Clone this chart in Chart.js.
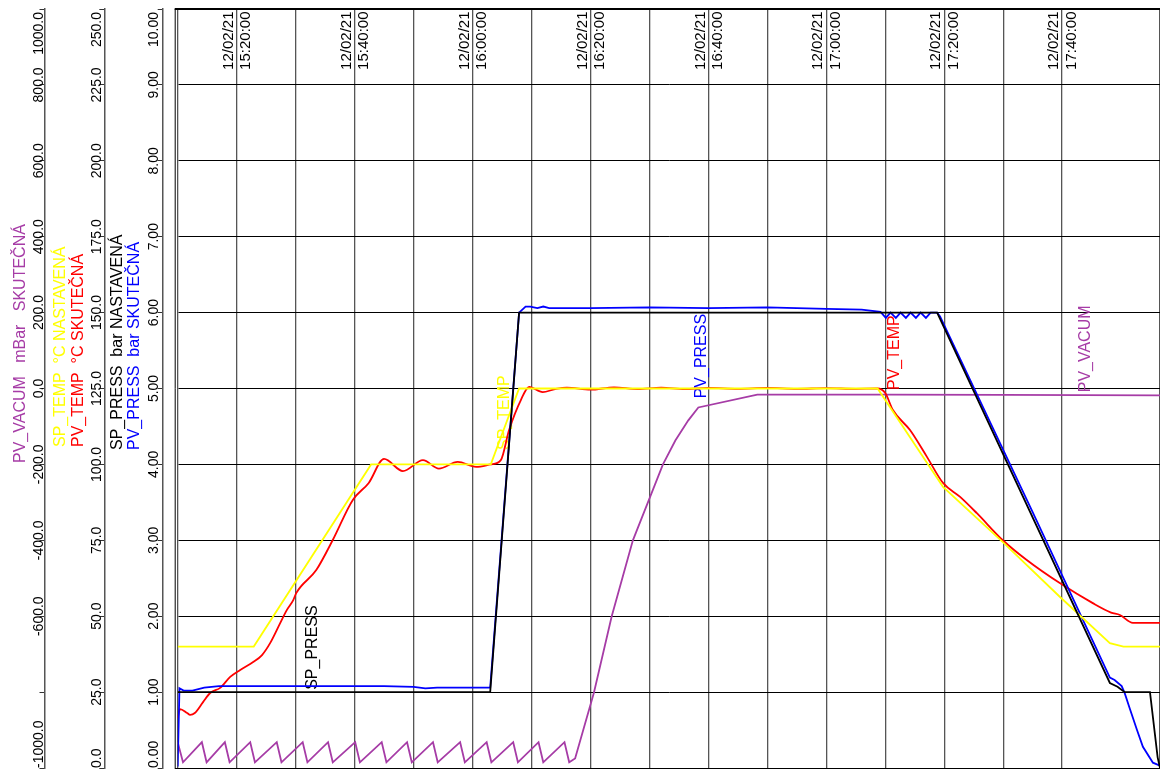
<!DOCTYPE html>
<html><head><meta charset="utf-8">
<script src="https://cdn.jsdelivr.net/npm/chart.js@4.4.1/dist/chart.umd.min.js"></script>
<style>html,body{margin:0;padding:0;background:#fff;overflow:hidden}#wrap{width:1160px;height:771px;position:relative}canvas{display:block}</style>
</head><body><div id="wrap"><canvas id="c" width="1160" height="771" style="width:1160px;height:771px"></canvas></div>
<script>
// ---- time axis (minutes after 12/02/21 15:10:00) ----
const timeTickMinutes = [10, 30, 50, 70, 90, 110, 130, 150];
const timeTickDates = ['12/02/21','12/02/21','12/02/21','12/02/21','12/02/21','12/02/21','12/02/21','12/02/21'];
const timeTickTimes = ['15:20:00','15:40:00','16:00:00','16:20:00','16:40:00','17:00:00','17:20:00','17:40:00'];

// ---- axis tick labels ----
const vacTickVals = [-1000,-600,-400,-200,0,200,400,600,800,1000];
const vacTickLabels = ['-1000.0','-600.0','-400.0','-200.0','0.0','200.0','400.0','600.0','800.0','1000.0'];
const tempTickVals = [0,25,50,75,100,125,150,175,200,225,250];
const tempTickLabels = ['0.0','25.0','50.0','75.0','100.0','125.0','150.0','175.0','200.0','225.0','250.0'];
const pressTickVals = [0,1,2,3,4,5,6,7,8,9,10];
const pressTickLabels = ['0.00','1.00','2.00','3.00','4.00','5.00','6.00','7.00','8.00','9.00','10.00'];

// ---- series: SP_PRESS (bar) ----
const spPressT = [0, 53.0, 57.9, 128.8, 158.1, 159.4, 160.6, 164.9, 166.2, 166.6];
const spPressV = [1.0, 1.0, 6.0, 6.0, 1.12, 1.07, 1.0, 1.0, 0.14, 0.0];

// ---- series: PV_PRESS (bar) ----
const pvPressT = [0, 0.3, 1.0, 2.5, 4.5, 7, 15, 25, 35, 40, 42, 44, 50, 53.0, 57.9, 59.0, 59.8, 61, 62, 63, 70, 80, 90, 100, 110, 116, 119.2, 120.1, 120.9, 121.8, 122.6, 123.5, 124.3, 125.2, 126.0, 126.9, 127.7, 128.8, 129.3, 145, 158.1, 158.9, 160.1, 160.6, 161.4, 162.7, 163.7, 165.4, 166.6];
const pvPressV = [0.02, 1.05, 1.02, 1.02, 1.06, 1.08, 1.08, 1.08, 1.08, 1.07, 1.05, 1.06, 1.06, 1.06, 6.0, 6.08, 6.08, 6.06, 6.08, 6.06, 6.06, 6.07, 6.06, 6.07, 6.05, 6.04, 6.01, 5.93, 6.0, 5.93, 6.0, 5.93, 6.0, 5.93, 6.0, 5.93, 6.0, 6.0, 5.95, 3.37, 1.19, 1.16, 1.08, 0.99, 0.80, 0.50, 0.28, 0.07, 0.03];

// ---- series: SP_TEMP (°C) ----
const spTempT = [0, 12.9, 32.8, 53.1, 57.9, 118.7, 127.1, 129.8, 139.9, 149.6, 158.1, 160.4, 166.6];
const spTempV = [40, 40, 100, 100, 125, 125, 100.5, 92.6, 74.5, 56.4, 41.1, 40, 40];

// ---- series: PV_TEMP (°C) ----
const pvTempT = [0,0.4,1.6,2.1,2.9,4.3,5.5,7.2,8.9,10.6,12.8,14.3,15.7,17.4,18.5,19.6,20.1,23.5,26.3,29.7,32.4,35.0,38.2,41.6,44.3,47.5,50.6,53.1,54.8,56.2,58.2,59.6,61.9,64,66,70,74,78,82,86,90,95,100,105,110,115,118.7,120.0,121.3,124.2,127.1,129.8,132.7,135.5,139.9,144.0,149.6,155.2,158.3,159.8,162.0,166.6];
const pvTempV = [16.5,19.4,18.1,17.5,18.1,21.7,24.7,26.4,30.0,32.3,34.9,37.2,41.2,47.8,52.0,55.3,57.6,65.2,75.1,88.3,93.9,101.8,97.8,101.4,98.6,100.8,99.2,100,101.4,111.3,121.2,125.5,123.8,124.8,125.3,124.6,125.4,124.8,125.3,124.8,125.2,124.9,125.2,124.9,125.1,124.9,125,123.5,117.9,111.3,102.4,93.9,89.3,84.0,75.1,68.5,60.9,54.3,51.2,50.4,47.8,47.8];

// ---- series: PV_VACUM (mBar) ----
const pvVacT = [0,0.9,4.1,4.9,8.0,8.8,12.3,13.1,16.8,17.6,21.2,22.0,25.5,26.3,30.1,30.9,34.6,35.4,38.9,39.7,43.3,44.1,47.9,48.7,52.4,53.2,56.9,57.7,61.2,62.0,65.6,66.4,67.4,70.6,73.6,77.2,82.3,84.4,86.6,88.3,98.3,120,140,166.6];
const pvVacV = [-932,-985,-932,-985,-932,-985,-932,-985,-932,-985,-932,-985,-932,-985,-932,-985,-932,-985,-932,-985,-932,-985,-932,-985,-932,-985,-932,-985,-932,-985,-932,-985,-975,-801,-601,-400,-200,-137,-84,-50,-16,-16,-17,-18];

// ---- in-plot series labels (anchored in time / bar units) ----
const seriesLabelText = ['SP_PRESS','SP_TEMP','PV_PRESS','PV_TEMP','PV_VACUM'];
const seriesLabelT = [22.7, 55.3, 88.6, 121.3, 153.7];
const seriesLabelP = [1.03, 4.19, 4.87, 4.98, 4.95];

const PURPLE = '#a63ca6', YELLOW = '#ffff00', RED = '#ff0000', BLUE = '#0000ff', BLACK = '#000000';
const seriesLabelColor = [BLACK, YELLOW, BLUE, RED, PURPLE];
const FONT = '"Liberation Sans", Arial, Helvetica, sans-serif';

function xy(ts, vs) { return ts.map((t, i) => ({x: t, y: vs[i]})); }

function rotText(ctx, text, x, y, align, color, size) {
  ctx.save();
  ctx.translate(x, y);
  ctx.rotate(-Math.PI / 2);
  ctx.font = size + 'px ' + FONT;
  ctx.fillStyle = color;
  ctx.textAlign = align;
  ctx.textBaseline = 'alphabetic';
  ctx.fillText(text, 0, 0);
  ctx.restore();
}

function drawTickLabels(ctx, scale, vals, labels, baseX, area) {
  ctx.font = '14px ' + FONT;
  vals.forEach((v, i) => {
    const w = ctx.measureText(labels[i]).width;
    let yc = scale.getPixelForValue(v);
    if (yc - w / 2 < area.top + 3) yc = area.top + 3 + w / 2;
    if (yc + w / 2 > area.bottom) yc = area.bottom - w / 2;
    rotText(ctx, labels[i], baseX, yc, 'center', '#000', 14);
  });
}

const overlay = {
  id: 'overlay',
  beforeDatasetsDraw(chart) {
    const ctx = chart.ctx, s = chart.scales;
    seriesLabelText.forEach((txt, i) => {
      const x = s.x.getPixelForValue(seriesLabelT[i]);
      const y = s.yP.getPixelForValue(seriesLabelP[i]);
      rotText(ctx, txt, x + 5.7, y, 'left', seriesLabelColor[i], 16);
    });
  },
  afterDraw(chart) {
    const ctx = chart.ctx, s = chart.scales, a = chart.chartArea;
    // frame
    ctx.save();
    ctx.strokeStyle = '#000';
    ctx.lineWidth = 2;
    ctx.beginPath(); ctx.moveTo(a.left - 3, a.top); ctx.lineTo(a.right, a.top); ctx.stroke();
    ctx.lineWidth = 1;
    ctx.beginPath(); ctx.moveTo(a.left - 2.5, a.top); ctx.lineTo(a.left - 2.5, a.bottom); ctx.stroke();
    ctx.beginPath(); ctx.moveTo(a.left - 3, a.bottom + 0.5); ctx.lineTo(a.right, a.bottom + 0.5); ctx.stroke();
    ctx.restore();
    // time labels
    timeTickMinutes.forEach((m, i) => {
      const x = s.x.getPixelForValue(m);
      rotText(ctx, timeTickDates[i], x - 3.8, a.top + 2.5, 'right', '#000', 15);
      rotText(ctx, timeTickTimes[i], x + 13.7, a.top + 2.5, 'right', '#000', 15);
    });
    // axis tick labels
    drawTickLabels(ctx, s.yV, vacTickVals, vacTickLabels, s.yV.right - 2, a);
    drawTickLabels(ctx, s.yT, tempTickVals, tempTickLabels, s.yT.right - 3.8, a);
    drawTickLabels(ctx, s.yP, pressTickVals, pressTickLabels, s.yP.right - 4.7, a);
    // axis titles
    rotText(ctx, 'PV_VACUM   mBar   SKUTEČNÁ', s.yV.right - 20, 463, 'left', PURPLE, 16);
    rotText(ctx, 'SP_TEMP  °C NASTAVENÁ', s.yT.right - 39.6, 447, 'left', YELLOW, 16);
    rotText(ctx, 'PV_TEMP  °C SKUTEČNÁ', s.yT.right - 21.6, 447, 'left', RED, 16);
    rotText(ctx, 'SP_PRESS  bar NASTAVENÁ', s.yP.right - 41.2, 450, 'left', BLACK, 16);
    rotText(ctx, 'PV_PRESS  bar SKUTEČNÁ', s.yP.right - 23.7, 450, 'left', BLUE, 16);
  }
};

const axisBase = (min, max, step, width, weight, onArea, gridColor) => ({
  type: 'linear', position: 'left', weight: weight, min: min, max: max,
  ticks: {display: false, stepSize: step},
  grid: {drawOnChartArea: onArea, drawTicks: true, tickLength: 5, color: gridColor, tickColor: '#333', lineWidth: 1},
  border: {display: true, color: '#555', width: 1.5},
  afterFit(sc) { sc.width = width; }
});

new Chart(document.getElementById('c'), {
  type: 'line',
  data: {
    datasets: [
      {label: 'SP_PRESS', data: xy(spPressT, spPressV), yAxisID: 'yP', borderColor: BLACK, borderWidth: 1.8},
      {label: 'SP_TEMP', data: xy(spTempT, spTempV), yAxisID: 'yT', borderColor: YELLOW, borderWidth: 1.8},
      {label: 'PV_PRESS', data: xy(pvPressT, pvPressV), yAxisID: 'yP', borderColor: BLUE, borderWidth: 1.8},
      {label: 'PV_TEMP', data: xy(pvTempT, pvTempV), yAxisID: 'yT', borderColor: RED, borderWidth: 1.8, cubicInterpolationMode: 'monotone'},
      {label: 'PV_VACUM', data: xy(pvVacT, pvVacV), yAxisID: 'yV', borderColor: PURPLE, borderWidth: 1.8}
    ]
  },
  options: {
    responsive: false,
    animation: false,
    events: [],
    elements: {point: {radius: 0}, line: {tension: 0, fill: false}},
    layout: {padding: {top: 9, bottom: 3, left: 0, right: 0}},
    plugins: {legend: {display: false}, tooltip: {enabled: false}},
    scales: {
      x: {
        type: 'linear', position: 'bottom', min: 0, max: 166.6,
        ticks: {display: false, stepSize: 10},
        grid: {drawTicks: false, color: '#555', lineWidth: 1.3},
        border: {display: false},
        afterFit(sc) { sc.height = 0; }
      },
      yV: axisBase(-1000, 1000, 200, 44.5, 4, false, '#333'),
      yT: axisBase(0, 250, 25, 59.8, 3, false, '#333'),
      yP: axisBase(0, 10, 1, 58.4, 2, true, '#000'),
      pad: {
        type: 'linear', position: 'left', weight: 1, min: 0, max: 1,
        ticks: {display: false}, grid: {display: false}, border: {display: false},
        afterFit(sc) { sc.width = 15; }
      }
    }
  },
  plugins: [overlay]
});
</script></body></html>
